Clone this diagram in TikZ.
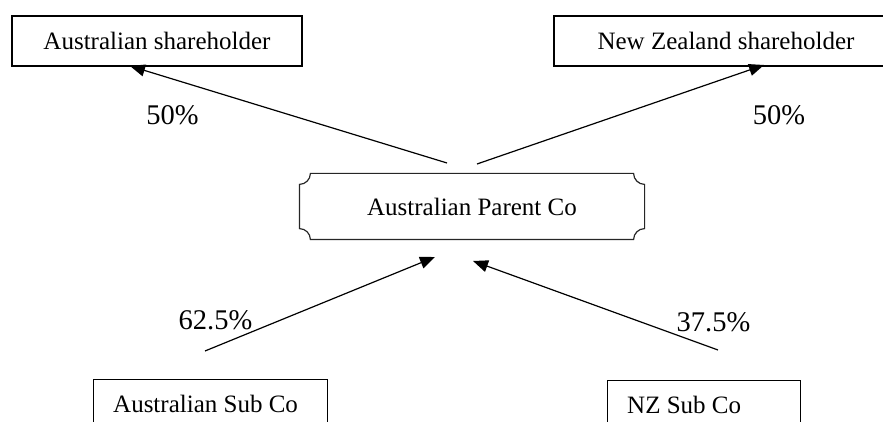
\documentclass[tikz,border=0pt]{standalone}
\usepackage{fontspec}
\setmainfont{Liberation Serif}
\usetikzlibrary{arrows.meta}
\begin{document}
\begin{tikzpicture}[x=1pt,y=1pt,
  boxfont/.style={font=\fontsize{25}{30}\selectfont},
  box/.style={draw, line width=1.2pt, inner sep=0pt, boxfont},
  subbox/.style={box, anchor=north west, minimum height=50pt},
  subtext/.style={boxfont, anchor=west, inner sep=0pt},
  outline/.style={line width=1.2pt, draw=black!85},
  pct/.style={anchor=base, inner sep=0pt, font=\fontsize{28.5}{34}\selectfont},
  share/.style={line width=1.2pt, -{Triangle[length=15pt,width=12pt]}}]
\useasboundingbox (0,0) rectangle (883,422);
\clip (0,0) rectangle (883,422);

% shareholders
\node[box, minimum width=290pt, minimum height=50pt] (aush) at (157,381) {Australian shareholder};
\node[box, minimum width=344pt, minimum height=50pt] (nzsh) at (726,381) {New Zealand shareholder};

% parent company, outline with concave corners
\node[box, draw=none, minimum width=344pt, minimum height=65pt] (parent) at (472,215.5) {Australian Parent Co};
\draw[outline] ([xshift=11pt]parent.north west) -- ([xshift=-11pt]parent.north east)
  arc[start angle=180, end angle=270, radius=11pt]
  -- ([yshift=11pt]parent.south east)
  arc[start angle=90, end angle=180, radius=11pt]
  -- ([xshift=11pt]parent.south west)
  arc[start angle=0, end angle=90, radius=11pt]
  -- ([yshift=-11pt]parent.north west)
  arc[start angle=270, end angle=360, radius=11pt]
  -- cycle;

% subsidiaries: boxes run past the lower edge, text set from the left side
\node[subbox, minimum width=234pt] (aussub) at (93,43) {};
\node[subtext] (aussubtxt) at ([xshift=20pt,yshift=0.5pt]aussub.west) {Australian Sub Co};
\node[subbox, minimum width=193pt] (nzsub) at (607,42) {};
\node[subtext] (nzsubtxt) at ([xshift=20pt,yshift=0.5pt]nzsub.west) {NZ Sub Co};

% ownership arrows
\coordinate (a1t) at (447,259);
\coordinate (a1h) at (130,356);
\coordinate (a2t) at (477,258);
\coordinate (a2h) at (764,357);
\coordinate (a3t) at (205,71);
\coordinate (a3h) at (435,165);
\coordinate (a4t) at (718,72);
\coordinate (a4h) at (473,161);
\draw[share] (a1t) -- (a1h);
\draw[share] (a2t) -- (a2h);
\draw[share] (a3t) -- (a3h);
\draw[share] (a4t) -- (a4h);

% percentages
\node[pct] (p1) at (172.5,297) {50\%};
\node[pct] (p2) at (779,297) {50\%};
\node[pct] (p3) at (215.5,92) {62.5\%};
\node[pct] (p4) at (713.5,90) {37.5\%};
\end{tikzpicture}
\end{document}
